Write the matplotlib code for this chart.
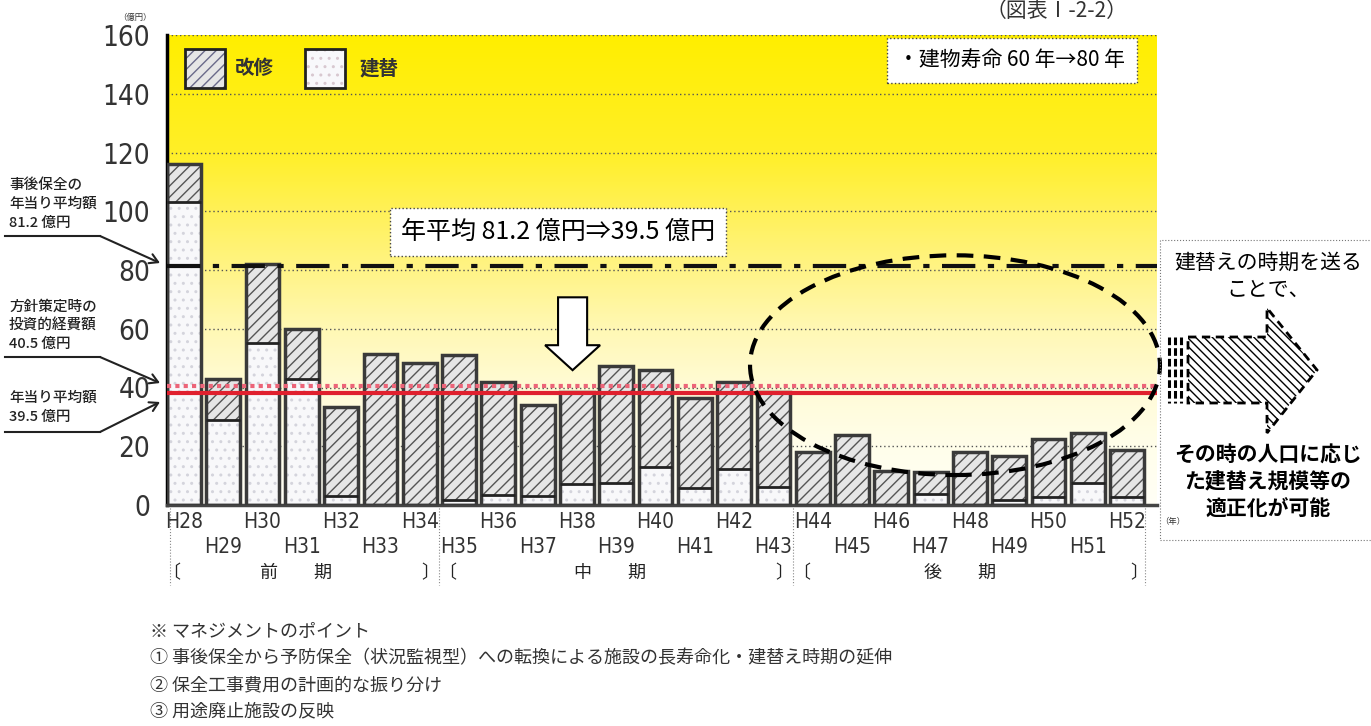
import numpy as np
import matplotlib.pyplot as plt
from matplotlib.patches import Rectangle, Polygon, Ellipse, FancyArrow, FancyArrowPatch
from matplotlib.lines import Line2D
from matplotlib.colors import LinearSegmentedColormap

plt.rcParams['font.family'] = ['Noto Sans CJK JP', 'DejaVu Sans']
NARROW = ['Liberation Sans Narrow', 'DejaVu Sans']

# data (億円)
years = ['H28', 'H29', 'H30', 'H31', 'H32', 'H33', 'H34', 'H35', 'H36', 'H37',
         'H38', 'H39', 'H40', 'H41', 'H42', 'H43', 'H44', 'H45', 'H46', 'H47',
         'H48', 'H49', 'H50', 'H51', 'H52']
rebuild = [103, 29, 55, 43, 3, 0.3, 0, 1.7, 3.4, 3.2,
           7.0, 7.6, 13.0, 5.7, 12.1, 6.0, 0, 0, 0, 3.7,
           0, 1.7, 2.6, 7.6, 2.6]
renovation = [13, 14, 27, 17, 30.2, 51.1, 48.5, 49.5, 38.5, 30.8,
              31.5, 39.7, 32.9, 30.8, 29.8, 32.5, 18.1, 23.8, 11.6, 7.6,
              18.1, 15.0, 19.7, 16.8, 16.1]
avg_before = 81.2
avg_plan = 40.5
avg_after = 38.0   # drawn a little below 40 in the original
yticks = [0, 20, 40, 60, 80, 100, 120, 140, 160]

W, H = 1371, 726
def fx(px):
    return px / W
def fy(py):
    return 1 - py / H

fig = plt.figure(figsize=(W / 100, H / 100), dpi=100)
ax = fig.add_axes([fx(167), fy(505), 990 / W, 470 / H])

x = np.arange(len(years))
total = np.array(rebuild) + np.array(renovation)
bw = 0.86
x0, x1 = -0.43, 24.76

# yellow gradient background
bg = LinearSegmentedColormap.from_list('bg', [(0, '#FFFFF6'), (0.125, '#FFFEEA'), (0.25, '#FFFBD6'),
                                              (0.375, '#FFF8B4'), (0.5, '#FFF486'), (0.625, '#FFF158'),
                                              (0.75, '#FFEF28'), (1, '#FFEE00')])
ax.imshow(np.linspace(0, 1, 256).reshape(-1, 1), cmap=bg, origin='lower',
          extent=[x0, x1, 0, 160], aspect='auto', zorder=0)
ax.set_xlim(x0, x1)
ax.set_ylim(0, 160)

ax.set_yticks(yticks)
ax.yaxis.grid(True, ls=(0, (1, 2)), color='#555555', lw=1)
ax.set_axisbelow(True)
ax.set_xticks([])
ax.tick_params(axis='y', length=0, pad=12, labelsize=20, labelcolor='#333333')
for lab in ax.get_yticklabels():
    lab.set_fontfamily(NARROW)
    lab.set_fontstretch('condensed')
for s in ['top', 'right']:
    ax.spines[s].set_visible(False)
ax.spines['left'].set_linewidth(2.5)
ax.spines['bottom'].set_linewidth(2.5)
ax.spines['bottom'].set_color('#444444')

# bars
ax.bar(x, rebuild, width=bw, color='#f8f8fa', hatch='..', edgecolor='#d4d4dc', lw=0, zorder=2)
ax.bar(x, renovation, bottom=rebuild, width=bw, color='#e6e6e6', hatch='///',
       edgecolor='#555555', lw=0, zorder=2)
ax.bar(x, total, width=bw, fill=False, edgecolor='#3a3a3a', lw=2.5, zorder=3)
rb = np.array(rebuild)
m = rb > 0.5
ax.hlines(rb[m], x[m] - bw / 2, x[m] + bw / 2, color='#222222', lw=2, zorder=3)

# average lines
ax.axhline(avg_before, color='#111111', lw=3, ls=(0, (8, 3, 1.5, 3)), zorder=4)
ax.axhline(avg_plan, color='#ec6478', lw=3, ls=(0, (1, 1)), zorder=4)
ax.axhline(avg_after, color='#e0202e', lw=3, zorder=4)

# dashed ellipse and down arrow
ax.add_patch(Ellipse((19.62, 47.6), 10.43, 74.8, fill=False, ls=(0, (4, 2.5)), lw=3,
                     ec='black', zorder=5, clip_on=False))
ax.add_patch(FancyArrow(9.89, 70.7, 0, -24.8, width=0.74, head_width=1.4, head_length=8.5,
                        length_includes_head=True, fc='white', ec='black', lw=1.5, zorder=5))

ax.text(9.52, 92.9, '年平均 81.2 億円⇒39.5 億円', fontsize=18, ha='center', va='center', zorder=6,
        bbox=dict(boxstyle='square,pad=0.45', fc='white', ec='#444444', ls=':', lw=1))
ax.text(21.07, 151.4, '・建物寿命 60 年→80 年', fontsize=15, ha='center', va='center', zorder=6,
        bbox=dict(boxstyle='square,pad=0.55', fc='white', ec='#444444', ls=':', lw=1))

# legend
ax.add_patch(Rectangle((0.03, 141.8), 1.02, 13.6, fc='#e6e6e6', hatch='///', ec='#6a6a8a', lw=0, zorder=5))
ax.add_patch(Rectangle((0.03, 141.8), 1.02, 13.6, fill=False, ec='#222222', lw=2, zorder=6))
ax.text(1.30, 148.6, '改修', fontsize=14, weight='bold', color='#333333', va='center', zorder=6)
ax.add_patch(Rectangle((3.08, 141.8), 1.02, 13.6, fc='#f8f8fb', hatch='..', ec='#d8c8d0', lw=0, zorder=5))
ax.add_patch(Rectangle((3.08, 141.8), 1.02, 13.6, fill=False, ec='#222222', lw=2, zorder=6))
ax.text(4.48, 148.6, '建替', fontsize=14, weight='bold', color='#333333', va='center', zorder=6)

# x labels in two rows
tr = ax.get_xaxis_transform()
for i, yr in enumerate(years):
    ax.text(i, -0.036 if i % 2 == 0 else -0.089, yr, transform=tr, ha='center', va='center',
            fontsize=15, family=NARROW, fontstretch='condensed', color='#333333')
ax.text(24.85, -0.036, '（年）', transform=tr, ha='left', va='center', fontsize=6, color='#333333')

# period brackets
for b in [-0.35, 6.5, 15.5, 24.45]:
    ax.plot([b, b], [0, -0.17], transform=tr, ls=':', lw=0.8, color='#888888', clip_on=False)
for pos, s in [(-0.32, '〔'), (6.5, '〕〔'), (15.5, '〕〔'), (24.3, '〕'),
               (2.85, '前　　期'), (10.85, '中　　期'), (19.75, '後　　期')]:
    ax.text(pos, -0.145, s, transform=tr, ha='center', va='center', fontsize=13, color='#222222')

# left notes with arrows
notes = [(['事後保全の', '年当り平均額', '81.2 億円'], [185, 204, 223], 236, 263),
         (['方針策定時の', '投資的経費額', '40.5 億円'], [307, 326, 344], 357, 383),
         (['年当り平均額', '39.5 億円'], [398, 417], 432, 402)]
for lines, ys, ly, ty in notes:
    for t, yy in zip(lines, ys):
        fig.text(fx(9), fy(yy), t, fontsize=10.5, weight='medium', color='#222222', va='center')
    fig.add_artist(Line2D([fx(5), fx(100)], [fy(ly), fy(ly)], transform=fig.transFigure,
                          color='#222222', lw=1.5))
    fig.add_artist(FancyArrowPatch((fx(100), fy(ly)), (fx(160), fy(ty)), transform=fig.transFigure,
                                   arrowstyle='->,head_length=6,head_width=3.5', lw=1.5,
                                   color='#222222', shrinkA=0, shrinkB=0))

fig.text(fx(135), fy(17), '（億円）', fontsize=6, ha='center', va='center', color='#333333')
fig.text(fx(1057), fy(17), '（図表Ⅰ-2-2）', fontsize=15, ha='center', va='baseline', color='#333333')

# right explanation
fig.add_artist(Rectangle((fx(1160), fy(540)), 230 / W, 300 / H, transform=fig.transFigure,
                         fill=False, ls=':', lw=0.8, ec='#777777'))
fig.text(fx(1268), fy(263), '建替えの時期を送る', fontsize=15, ha='center', va='center')
fig.text(fx(1268), fy(290), 'ことで、', fontsize=15, ha='center', va='center')
pts = [(1188, 337), (1267, 337), (1267, 308), (1317, 370), (1267, 433), (1267, 403), (1188, 403)]
fig.add_artist(Polygon([(fx(a), fy(b)) for a, b in pts], closed=True, transform=fig.transFigure,
                       fc='white', ec='black', hatch='\\\\\\\\', ls=(0, (3, 2)), lw=2))
for sx in [1169, 1175, 1181]:
    fig.add_artist(Line2D([fx(sx), fx(sx)], [fy(337), fy(403)], transform=fig.transFigure,
                          color='black', lw=2.2, ls=(0, (2.5, 1))))
for t, yy in zip(['その時の人口に応じ', 'た建替え規模等の', '適正化が可能'], [455, 482, 509]):
    fig.text(fx(1268), fy(yy), t, fontsize=15, weight='bold', ha='center', va='center')

# management points
points = ['※ マネジメントのポイント',
          '① 事後保全から予防保全（状況監視型）への転換による施設の長寿命化・建替え時期の延伸',
          '② 保全工事費用の計画的な振り分け',
          '③ 用途廃止施設の反映']
for t, yy in zip(points, [632, 658, 685, 711]):
    fig.text(fx(150), fy(yy), t, fontsize=13, color='#333333', va='center')

fig.savefig('out.png', dpi=100)
